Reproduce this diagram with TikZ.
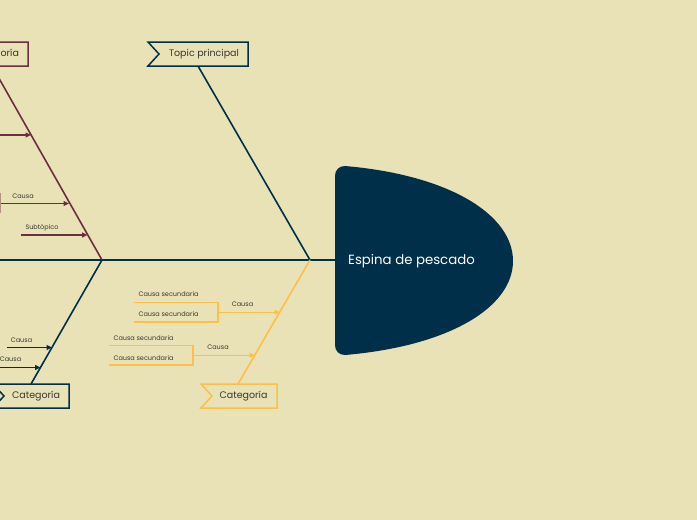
\documentclass[tikz,border=0pt]{standalone}
\usepackage{fontspec}
\setmainfont{Poppins}
\usetikzlibrary{arrows.meta}
\definecolor{bg}{HTML}{EAE2B7}
\definecolor{navy}{HTML}{003049}
\definecolor{maroon}{HTML}{6D2E40}
\definecolor{gold}{HTML}{FCBF49}
\definecolor{ink}{HTML}{363636}
\begin{document}
\begin{tikzpicture}[x=1pt,y=-1pt,
  lbl/.style={font=\fontsize{6.5}{7}\selectfont, text=ink, inner sep=0pt},
  cat/.style={font=\fontsize{9.5}{11}\selectfont, text=ink, inner sep=0pt},
  bone/.style={line width=1.6pt},
  arr/.style={line width=1.2pt, -{Triangle[length=5.5pt,width=5pt]}},
  brk/.style={line width=1.2pt}]
\useasboundingbox (0,0) rectangle (697,520);
\fill[bg] (0,0) rectangle (697,520);
\clip (0,0) rectangle (697,520);

% junction points and connector ends
\coordinate (spineL) at (-2,260);
\coordinate (headL) at (336,260);
\coordinate (jA) at (102,260);
\coordinate (jB) at (310,260);
\coordinate (topicB) at (198,66);
\coordinate (maroonB) at (-8,66);
\coordinate (navyB) at (31,384);
\coordinate (goldB) at (238,384);

% head
\fill[navy] (345,166) .. controls (450,175) and (513,215) .. (513,261)
  .. controls (513,307) and (450,346) .. (345,355)
  .. controls (339,355) and (335,351) .. (335,345)
  -- (335,176) .. controls (335,170) and (339,166) .. (345,166) -- cycle;
\node[font=\fontsize{13.3}{15}\selectfont, text=white, inner sep=0pt] (head) at (411.5,261.5) {Espina de pescado};

% spine
\draw[navy, line width=2pt] (spineL) -- (headL);

% bones
\draw[navy, bone] (topicB) -- (jB);
\draw[maroon, bone] (maroonB) -- (jA);
\draw[navy, bone] (jA) -- (navyB);
\draw[gold, bone] (jB) -- (goldB);

% boxes
\draw[navy, line width=1.5pt, fill=bg] (148,42) -- (248,42) -- (248,66) -- (148,66) -- (159,54) -- cycle;
\node[cat] (topic) at (204,54.5) {Topic principal};
\draw[maroon, line width=1.5pt, fill=bg] (-44,42) -- (28,42) -- (28,66) -- (-44,66) -- (-33,54) -- cycle;
\node[cat] (catM) at (-5,54.5) {Categoría};
\draw[navy, line width=1.5pt, fill=bg] (-7,384) -- (69,384) -- (69,408) -- (-7,408) -- (4,396) -- cycle;
\node[cat] (catN) at (36,396.5) {Categoría};
\draw[gold, line width=1.5pt, fill=bg] (201,384) -- (277,384) -- (277,408) -- (201,408) -- (212,396) -- cycle;
\node[cat] (catG) at (243.5,396.5) {Categoría};

% maroon causes
\coordinate (m1a) at (-2,135); \coordinate (m1b) at (31,135);
\coordinate (m2a) at (-2,203.5); \coordinate (m2b) at (69,203.5);
\coordinate (m3a) at (21,235); \coordinate (m3b) at (87.5,235);
\draw[maroon, arr] (m1a) -- (m1b);
\draw[maroon, arr] (m2a) -- (m2b);
\draw[maroon, arr] (m3a) -- (m3b);
\coordinate (mk1) at (0.5,193); \coordinate (mk2) at (0.5,213);
\draw[maroon!45!bg, line width=1pt] (mk1) -- (mk2);
\node[lbl] (mc2) at (23,196.5) {Causa};
\node[lbl] (mc3) at (42,227.5) {Subtópico};

% navy causes
\coordinate (n1a) at (7,347.5); \coordinate (n1b) at (52,347.5);
\coordinate (n2a) at (-2,367.5); \coordinate (n2b) at (40.5,367.5);
\draw[navy, arr] (n1a) -- (n1b);
\draw[navy, arr] (n2a) -- (n2b);
\node[lbl] (nc1) at (21.5,340) {Causa};
\node[lbl] (nc2) at (10.5,359.5) {Causa};

% gold causes
\coordinate (g1a) at (134,302.5); \coordinate (g1b) at (218,302.5);
\coordinate (g1c) at (218,322); \coordinate (g1d) at (134,322);
\coordinate (g1m) at (218,312.3); \coordinate (g1e) at (280,312.3);
\draw[gold, brk] (g1a) -- (g1b) -- (g1c) -- (g1d);
\draw[gold, arr] (g1m) -- (g1e);
\node[lbl] (gs1) at (168.5,294.5) {Causa secundaria};
\node[lbl] (gs2) at (168.5,314.5) {Causa secundaria};
\node[lbl] (gc1) at (242.5,304.5) {Causa};

\coordinate (g2a) at (109,345.7); \coordinate (g2b) at (193,345.7);
\coordinate (g2c) at (193,365); \coordinate (g2d) at (109,365);
\coordinate (g2m) at (193,355.3); \coordinate (g2e) at (255,355.3);
\draw[gold, brk] (g2a) -- (g2b) -- (g2c) -- (g2d);
\draw[gold, arr] (g2m) -- (g2e);
\node[lbl] (gs3) at (143.5,337.7) {Causa secundaria};
\node[lbl] (gs4) at (143.5,357.7) {Causa secundaria};
\node[lbl] (gc2) at (218,347.5) {Causa};
\end{tikzpicture}
\end{document}
